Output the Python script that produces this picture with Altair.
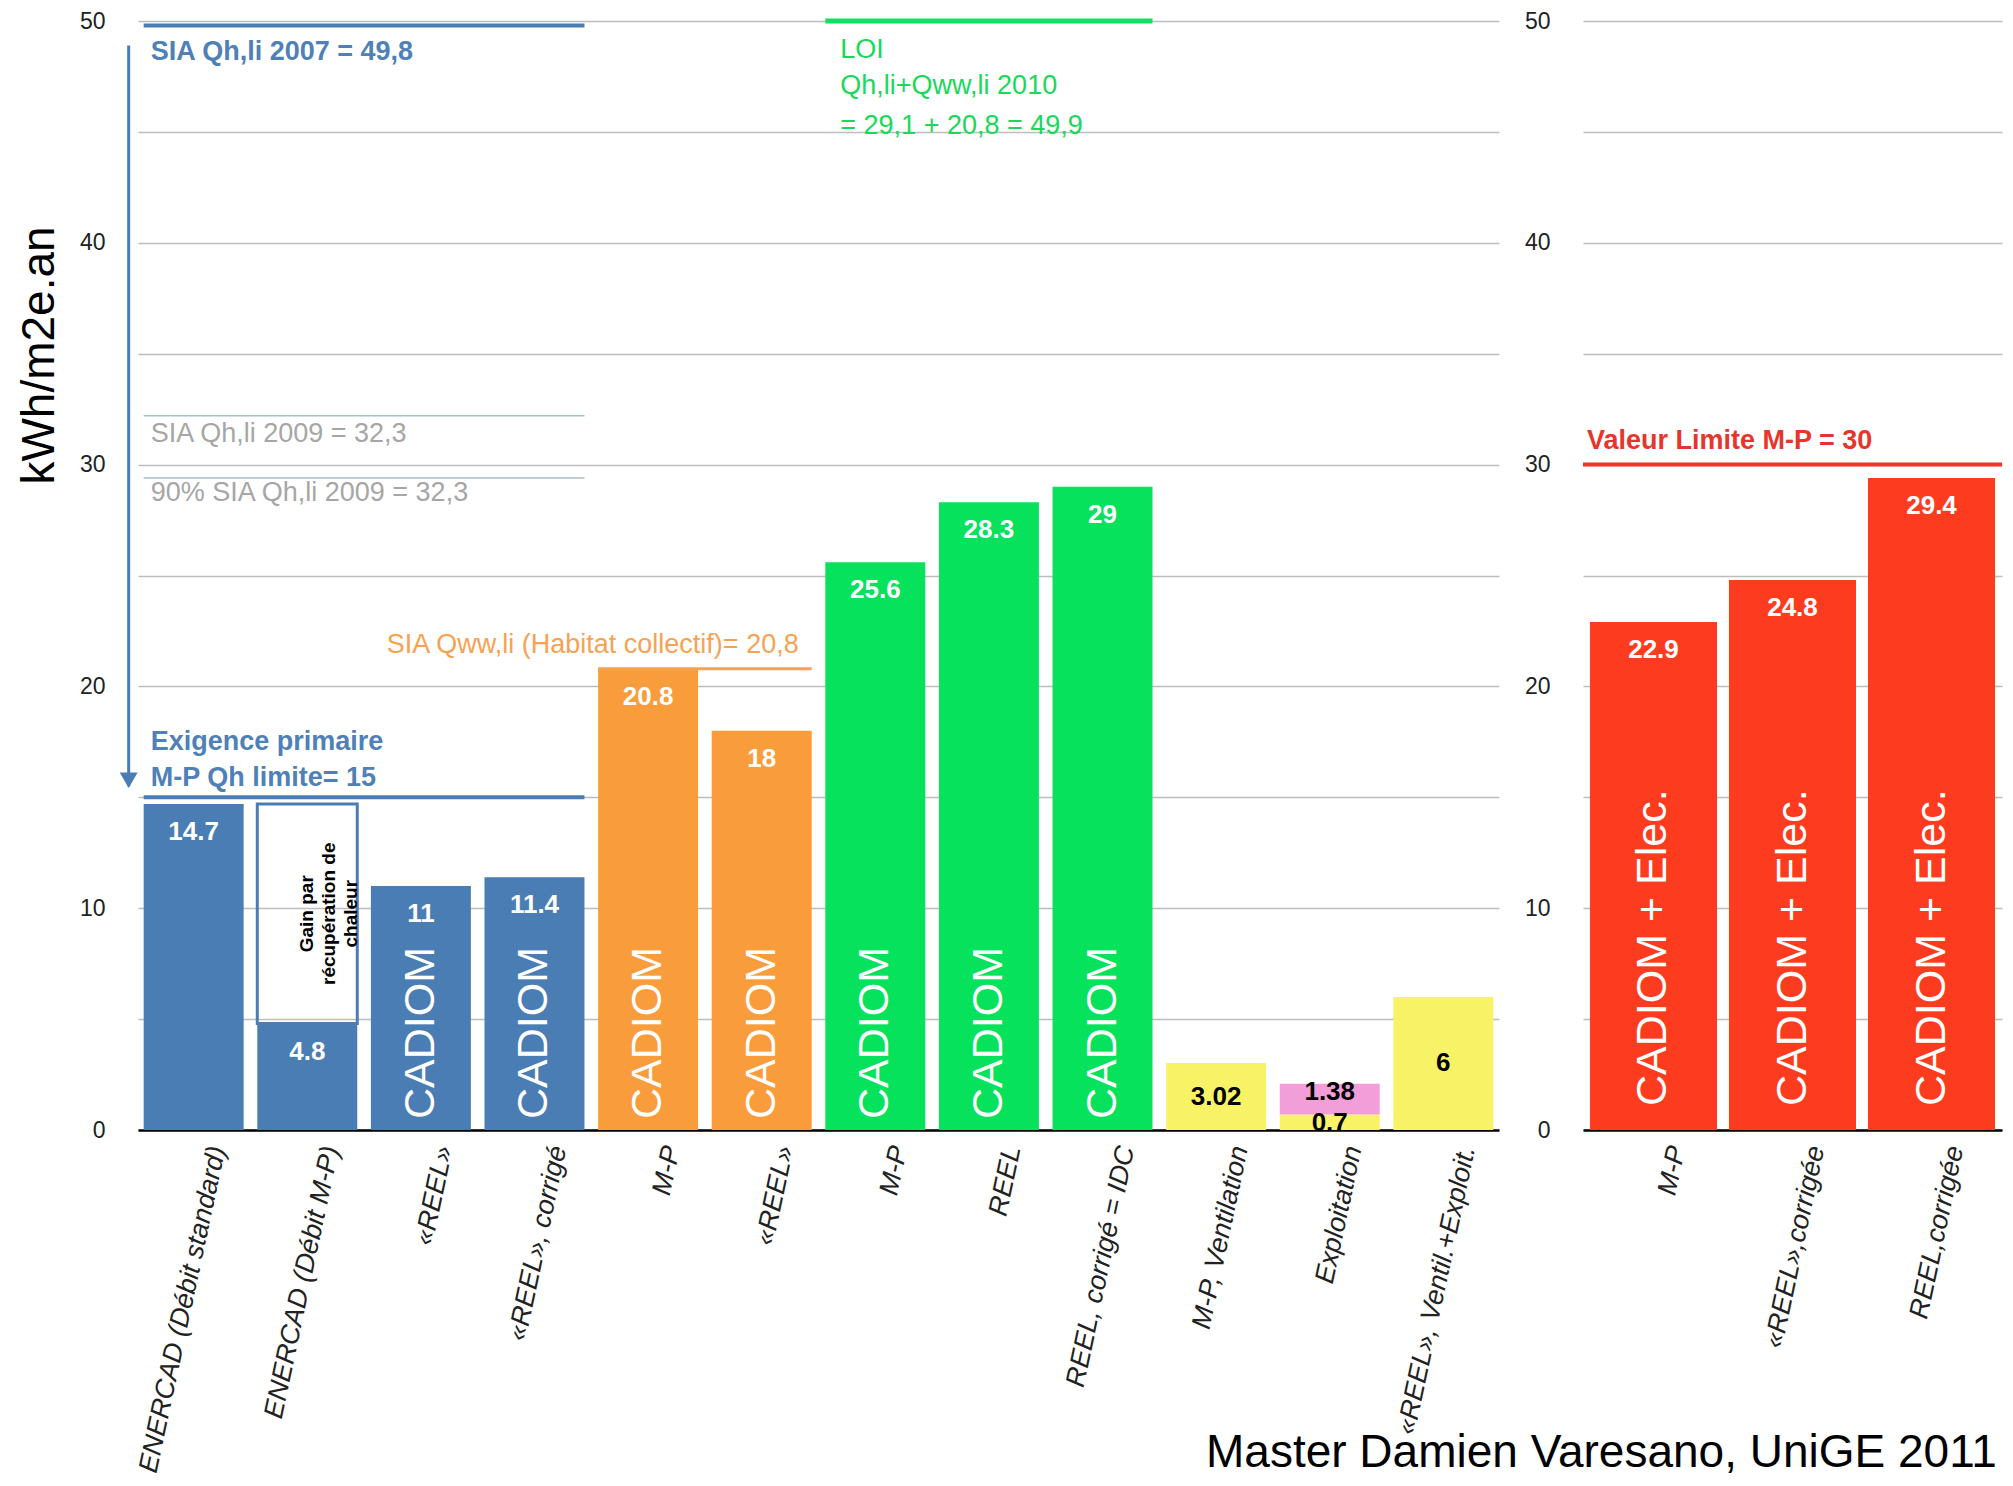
import json
import altair as alt
import pandas as pd

# ---------------- data ----------------
left_labels = ["ENERCAD (Débit standard)", "ENERCAD (Débit M-P)", "«REEL»", "«REEL», corrigé",
               "M-P", "«REEL»", "M-P", "REEL", "REEL, corrigé = IDC",
               "M-P, Ventilation", "Exploitation", "«REEL», Ventil.+Exploit."]
left_values = [14.7, 4.8, 11, 11.4, 20.8, 18, 25.6, 28.3, 29, 3.02, 0.7, 6]
left_value_labels = ["14.7", "4.8", "11", "11.4", "20.8", "18", "25.6", "28.3", "29", "3.02", "0.7", "6"]
left_groups = ["chauffage"] * 4 + ["ecs"] * 2 + ["total"] * 3 + ["elec"] * 3
left_inner = ["", "", "CADIOM", "CADIOM", "CADIOM", "CADIOM", "CADIOM", "CADIOM", "CADIOM", "", "", ""]

gain_bar = 1            # ENERCAD (Débit M-P): gain par récupération de chaleur
gain_top = 14.7
gain_text = ["Gain par", "récupération de", "chaleur"]
expl_bar = 10           # Exploitation: 0.7 + 1.38
expl_extra = 1.38
expl_extra_label = "1.38"
# label heights for the thin Exploitation bar
expl_label_y = {"0.7": 0.3, "1.38": 1.72}

right_labels = ["M-P", "«REEL»,corrigée", "REEL,corrigée"]
right_values = [22.9, 24.8, 29.4]
right_value_labels = ["22.9", "24.8", "29.4"]
right_inner = "CADIOM + Elec."

# reference lines (left panel): first band, last band, value
ref_starts = [0, 0, 0, 0, 4, 6]
ref_ends = [3, 3, 3, 3, 5, 8]
ref_values = [49.8, 32.2, 29.4, 15, 20.8, 50]
ref_kinds = ["blue", "thin", "thin", "blue", "orange", "green"]

arrow_top, arrow_bottom = 48.9, 15.5

ann_text = ["SIA Qh,li 2007 = 49,8", "SIA Qh,li 2009 = 32,3", "90% SIA Qh,li 2009 = 32,3",
            "Exigence primaire", "M-P Qh limite= 15",
            "LOI", "Qh,li+Qww,li 2010", "= 29,1 + 20,8 =  49,9"]
ann_band = [0, 0, 0, 0, 0, 6, 6, 6]
ann_y = [48.6, 31.4, 28.7, 17.5, 15.85, 48.7, 47.05, 45.25]
ann_kind = ["blue", "gray", "gray", "blue", "blue", "green", "green", "green"]

orange_text = "SIA Qww,li (Habitat collectif)= 20,8"
orange_band, orange_y = 5, 21.87

red_limit = 30
red_text = "Valeur Limite M-P = 30"
red_text_y = 31.06

credit = "Master Damien Varesano, UniGE 2011"

# ---------------- styles ----------------
FONT = "Liberation Sans"
BLUE = "#4a7db3"
ORANGE = "#f99d3c"
GREEN = "#06e25b"
YELLOW = "#f8f266"
PINK = "#f29ed8"
RED = "#fd3c1f"
group_colors = {"chauffage": BLUE, "ecs": ORANGE, "total": GREEN, "elec": YELLOW}
line_colors = {"blue": BLUE, "thin": "#a9bdd0", "orange": "#f7a252", "green": "#12e060"}
line_widths = {"blue": 4, "thin": 1.5, "orange": 3, "green": 5}
text_colors = {"blue": "#4f80b6", "gray": "#a6a6a6", "green": "#19d85c"}

W_L, W_R, H = 1361, 419, 1109

ys = alt.Scale(domain=[0, 50], nice=False, zero=True)


def yaxis(title):
    kw = dict(values=list(range(0, 51, 5)),
              labelExpr="datum.value % 10 == 0 ? datum.label : ''",
              ticks=False, domain=False, grid=True, gridColor="#bdbdbd", gridWidth=1.5,
              labelFontSize=23, labelColor="#222222", labelPadding=33)
    if title:
        kw.update(title=title, titleFontSize=46, titleFontWeight="normal",
                  titleColor="black", titlePadding=16, titleY=334)
    else:
        kw.update(title=None)
    return alt.Axis(**kw)


def xaxis(labels):
    return alt.Axis(title=None, labelExpr=json.dumps(labels, ensure_ascii=False) + "[datum.value]",
                    labelAngle=-78, labelAlign="right", labelBaseline="middle",
                    labelFontSize=27, labelFontStyle="italic", labelColor="#222222",
                    labelPadding=16, labelOffset=24, labelLimit=1000, ticks=False,
                    domainColor="black", domainWidth=2.5, grid=False)


ya_left = yaxis("kWh/m2e.an")
ya_right = yaxis(None)
xa_left = xaxis(left_labels)
xa_right = xaxis(right_labels)
xs_left = alt.Scale(paddingInner=0.12, paddingOuter=0.05)
xs_right = alt.Scale(paddingInner=0.086, paddingOuter=0.05)


def XL(field, bp=None):
    kw = dict(type="ordinal", scale=xs_left, axis=xa_left)
    if bp is not None:
        kw["bandPosition"] = bp
    return alt.X(field, **kw)


def YL(field):
    return alt.Y(field, type="quantitative", scale=ys, axis=ya_left)


def XR(field, bp=None):
    kw = dict(type="ordinal", scale=xs_right, axis=xa_right)
    if bp is not None:
        kw["bandPosition"] = bp
    return alt.X(field, **kw)


def YR(field):
    return alt.Y(field, type="quantitative", scale=ys, axis=ya_right)


# ---------------- left panel ----------------
left = pd.DataFrame({"idx": list(range(len(left_labels))), "value": left_values,
                     "vlab": left_value_labels, "group": left_groups, "inner": left_inner})
left["color"] = left["group"].map(group_colors)
left["zero"] = 0.0

bars = alt.Chart(left).mark_bar().encode(
    x=XL("idx"), y=YL("value"), color=alt.Color("color:N", scale=None))

gain_df = pd.DataFrame({"idx": [gain_bar], "lo": [left_values[gain_bar]], "hi": [gain_top],
                        "mid": [(left_values[gain_bar] + gain_top) / 2]})
gain_box = alt.Chart(gain_df).mark_bar(fill="white", fillOpacity=0, stroke=BLUE, strokeWidth=3).encode(
    x=XL("idx"), y=YL("lo"), y2="hi")
gain_df2 = gain_df.copy()
gain_df2["t"] = [gain_text]
gain_label = alt.Chart(gain_df2).mark_text(angle=270, align="center", baseline="middle", fontSize=19,
                                           fontWeight="bold", color="black", lineHeight=22).encode(
    x=XL("idx"), y=YL("mid"), text="t")

pink_df = pd.DataFrame({"idx": [expl_bar], "lo": [left_values[expl_bar]],
                        "hi": [left_values[expl_bar] + expl_extra]})
pink = alt.Chart(pink_df).mark_bar(color=PINK).encode(x=XL("idx"), y=YL("lo"), y2="hi")

top_df = left[left["group"] != "elec"]
top_labels = alt.Chart(top_df).mark_text(color="white", fontWeight="bold", fontSize=26, dy=28,
                                         baseline="middle").encode(
    x=XL("idx"), y=YL("value"), text="vlab:N")

mid_rows = []
for i in range(len(left_labels)):
    if left_groups[i] == "elec":
        lab = left_value_labels[i]
        mid_rows.append({"idx": i, "ym": expl_label_y.get(lab, left_values[i] / 2), "vlab": lab})
mid_rows.append({"idx": expl_bar, "ym": expl_label_y[expl_extra_label], "vlab": expl_extra_label})
mid_df = pd.DataFrame(mid_rows)
mid_labels = alt.Chart(mid_df).mark_text(color="black", fontWeight="bold", fontSize=26,
                                         baseline="middle").encode(
    x=XL("idx"), y=YL("ym"), text="vlab:N")

inner_df = left[left["inner"] != ""]
inner_text = alt.Chart(inner_df).mark_text(angle=270, align="left", baseline="middle", dx=11,
                                           fontSize=43, color="white").encode(
    x=XL("idx"), y=YL("zero"), text="inner:N")

ref_df = pd.DataFrame({"start": ref_starts, "end": ref_ends, "y": ref_values, "kind": ref_kinds})
ref_df["color"] = ref_df["kind"].map(line_colors)
ref_df["w"] = ref_df["kind"].map(line_widths)
ref_lines = alt.Chart(ref_df).mark_rule().encode(
    x=XL("start", 0), x2=alt.X2("end", bandPosition=1), y=YL("y"),
    color=alt.Color("color:N", scale=None), size=alt.Size("w:Q", scale=None))

arrow_df = pd.DataFrame({"idx": [0], "top": [arrow_top], "bottom": [arrow_bottom]})
arrow_line = alt.Chart(arrow_df).mark_rule(color=BLUE, strokeWidth=3, xOffset=-15).encode(
    x=XL("idx", 0), y=YL("top"), y2="bottom")
arrow_head = alt.Chart(arrow_df).mark_point(shape="triangle-down", filled=True, size=320, color=BLUE,
                                            opacity=1, xOffset=-15, yOffset=-6).encode(
    x=XL("idx", 0), y=YL("bottom"))

ann = pd.DataFrame({"t": ann_text, "band": ann_band, "y": ann_y, "kind": ann_kind})
ann["color"] = ann["kind"].map(text_colors)


def ann_layer(df, dx, weight):
    return alt.Chart(df).mark_text(align="left", baseline="middle", dx=dx, fontSize=27,
                                   fontWeight=weight).encode(
        x=XL("band", 0), y=YL("y"), text="t:N", color=alt.Color("color:N", scale=None))


ann_blue = ann_layer(ann[ann["kind"] == "blue"], 7, "bold")
ann_gray = ann_layer(ann[ann["kind"] == "gray"], 7, "normal")
ann_green = ann_layer(ann[ann["kind"] == "green"], 15, "normal")

orange_df = pd.DataFrame({"t": [orange_text], "band": [orange_band], "y": [orange_y]})
ann_orange = alt.Chart(orange_df).mark_text(align="right", baseline="middle", dx=-13, fontSize=27,
                                            color="#f7a252").encode(
    x=XL("band", 1), y=YL("y"), text="t:N")

left_chart = alt.layer(
    bars, gain_box, pink, ref_lines, arrow_line, arrow_head,
    top_labels, mid_labels, inner_text, gain_label,
    ann_blue, ann_gray, ann_green, ann_orange
).properties(width=W_L, height=H)

# ---------------- right panel ----------------
right = pd.DataFrame({"idx": list(range(len(right_labels))), "value": right_values,
                      "vlab": right_value_labels, "inner": [right_inner] * len(right_labels)})
right["zero"] = 0.0

rbars = alt.Chart(right).mark_bar(color=RED).encode(x=XR("idx"), y=YR("value"))
rtop = alt.Chart(right).mark_text(color="white", fontWeight="bold", fontSize=26, dy=28,
                                  baseline="middle").encode(x=XR("idx"), y=YR("value"), text="vlab:N")
rinner = alt.Chart(right).mark_text(angle=270, align="left", baseline="middle", dx=24,
                                    fontSize=43, color="white").encode(
    x=XR("idx"), y=YR("zero"), text="inner:N")
rline_df = pd.DataFrame({"y": [red_limit], "t": [red_text], "ty": [red_text_y], "band": [0]})
rline = alt.Chart(rline_df).mark_rule(color="#f0362a", strokeWidth=4).encode(y=YR("y"))
rtext = alt.Chart(rline_df).mark_text(align="left", baseline="middle", dx=-3, fontSize=27,
                                      fontWeight="bold", color="#e8352c").encode(
    x=XR("band", 0), y=YR("ty"), text="t:N")
credit_df = pd.DataFrame({"t": [credit]})
credit_text = alt.Chart(credit_df).mark_text(align="left", baseline="alphabetic", fontSize=46,
                                             color="black").encode(
    x=alt.value(-377), y=alt.value(1446), text="t:N")

right_chart = alt.layer(rbars, rline, rtop, rinner, rtext, credit_text).properties(width=W_R, height=H)

chart = alt.hconcat(left_chart, right_chart, spacing=84, bounds="flush").properties(
    padding={"left": 8, "top": 2, "right": 0, "bottom": 0}
).configure(font=FONT).configure_view(stroke=None)

chart.save("out.html", embed_options={"renderer": "svg", "actions": False})
